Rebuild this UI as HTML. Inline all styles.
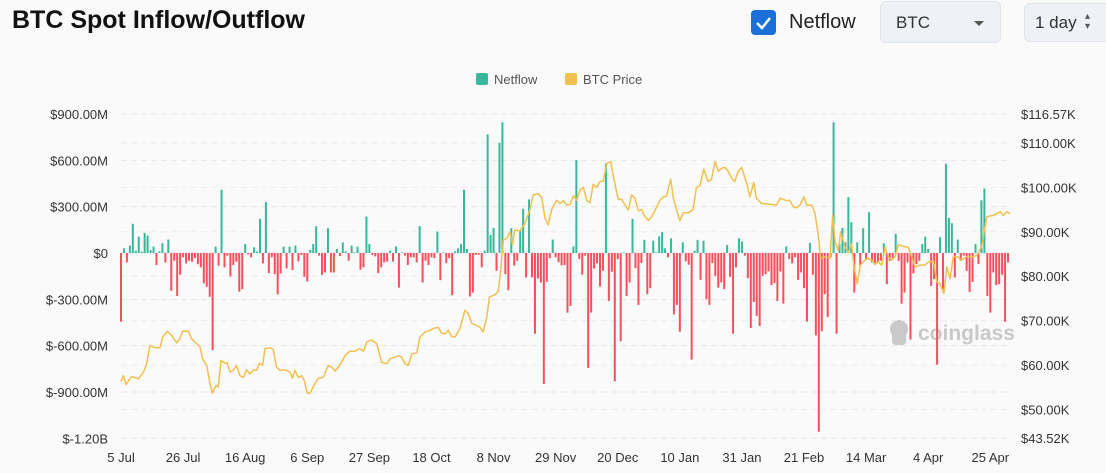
<!DOCTYPE html>
<html><head><meta charset="utf-8"><style>
html,body{margin:0;padding:0;background:#fafafa;width:1106px;height:473px;overflow:hidden;font-family:"Liberation Sans",sans-serif;}
#title{position:absolute;left:12px;top:6px;font-size:25px;font-weight:bold;color:#111;}
#cb{position:absolute;left:751px;top:10px;width:25px;height:25px;background:#1a6fd8;border-radius:4px}
#cbl{position:absolute;left:789px;top:11px;font-size:20px;color:#222}
#sel{position:absolute;left:880px;top:1px;width:121px;height:42px;background:#eef2f6;border:1px solid #dfe4ea;border-radius:6px;box-sizing:border-box}
#sel span{position:absolute;left:15px;top:11px;font-size:17px;color:#333}
#sel i{position:absolute;right:16px;top:19px;width:0;height:0;border-left:5px solid transparent;border-right:5px solid transparent;border-top:5px solid #555}
#day{position:absolute;left:1024px;top:3px;width:90px;height:39px;background:#eef2f6;border:1px solid #dfe4ea;border-radius:6px;box-sizing:border-box}
#day span{position:absolute;left:10px;top:9px;font-size:17px;color:#333}
#day b{position:absolute;left:60px;top:8px;font-size:10px;line-height:10px;color:#555;font-weight:normal}
svg{position:absolute;left:0;top:0}
</style></head><body>
<div id="title">BTC Spot Inflow/Outflow</div>
<div id="cb"><svg width="25" height="25"><path d="M6 13 L11 18 L19 8" stroke="#fff" stroke-width="2.5" fill="none"/></svg></div>
<div id="cbl">Netflow</div>
<div id="sel"><span>BTC</span><i></i></div>
<div id="day"><span>1 day</span><b>▴<br>▾</b></div>
<svg id="chart" width="1106" height="473">
<g>
<rect x="476" y="73" width="12" height="12" rx="2" fill="#37b89a"/>
<text x="494" y="84" font-size="13" fill="#555">Netflow</text>
<rect x="565" y="73" width="12" height="12" rx="2" fill="#f0c050"/>
<text x="583" y="84" font-size="13" fill="#555">BTC Price</text>
</g>
<g fill="#c9c9c9">
<circle cx="899" cy="329" r="9"/><rect x="892" y="331" width="14" height="14" rx="4"/>
<text x="918" y="340" font-size="21" font-weight="bold">coinglass</text>
</g>
<g id="grid"></g><g id="bars"></g><g id="line"></g><g id="axes"></g>
</svg>
<script>
const leftTicks=[900,600,300,0,-300,-600,-900,-1200];
const leftLabels=["$900.00M","$600.00M","$300.00M","$0","$-300.00M","$-600.00M","$-900.00M","$-1.20B"];
const rightTicks=[116.57,110,100,90,80,70,60,50,43.52];
const rightLabels=["$116.57K","$110.00K","$100.00K","$90.00K","$80.00K","$70.00K","$60.00K","$50.00K","$43.52K"];
const xTickLabels=["5 Jul","26 Jul","16 Aug","6 Sep","27 Sep","18 Oct","8 Nov","29 Nov","20 Dec","10 Jan","31 Jan","21 Feb","14 Mar","4 Apr","25 Apr"];
const xTickStep=21;
const netflow=[-445,30,-60,48,189,15,106,9,130,113,20,41,-78,11,63,-61,87,-245,-50,-278,-141,-28,-67,-50,-56,-33,-72,-93,-197,-219,-284,-629,41,-82,410,-93,-17,-152,-78,-56,-250,-234,58,-9,-28,37,9,221,-67,330,-130,-28,-137,-267,-132,41,-100,41,-110,48,-54,-13,-154,-184,20,58,174,-17,-141,-126,160,-126,-126,26,
-20,69,11,-50,48,4,41,-108,-93,236,58,-13,-22,-130,-93,-61,-56,15,-56,43,-224,4,-17,-78,-28,-28,-61,174,-191,-50,-78,-28,-33,139,-176,4,-65,-33,-273,11,30,58,410,26,-282,-256,-13,-11,-93,15,768,117,163,-115,714,846,-137,-241,160,-82,-50,145,286,-158,347,-158,-523,-165,-191,-848,-187,-33,87,-28,
-60,-80,-78,-386,-343,43,601,-39,-141,-17,-744,-386,-100,-67,-217,-115,579,-310,-121,-831,-39,-571,4,-278,-191,221,-98,-336,-65,85,-267,-228,80,4,108,135,30,-28,95,-397,-336,-510,69,-54,-76,-690,15,85,-174,80,-299,-336,-65,-148,-224,-191,-234,52,-154,-523,-93,95,74,-17,-163,-486,-317,-408,-473,-148,-137,-119,-208,-195,-310,
-120,-328,43,-39,-67,-28,-174,-126,-228,-445,65,-141,-534,-1157,-506,-267,-414,-28,846,-523,58,163,69,362,200,-256,69,-78,160,-39,265,-61,-76,-61,-50,63,-202,-50,-33,124,-50,-328,-256,-61,-560,-132,-72,-50,58,106,26,-213,-169,-723,102,-234,579,228,193,-158,87,-50,-17,-115,-252,-187,58,-72,341,417,-278,-386,-126,-208,-202,-141,-445,-61];
const priceDay=[0,0.8,1.7,3.6,5.9,7.6,8.7,9.8,11.5,13.2,14.1,15.7,17.1,18.8,19.9,20.8,22.8,23.9,25.6,26.7,27.6,29,30.1,30.9,32.1,32.9,33.8,35.2,35.9,36.9,38,39.1,40.2,41.4,42.5,43.6,44.8,45.9,46.8,47.9,48.7,50.4,51.5,52.6,53.8,55.5,57.2,58,58.8,60,61.1,62,63,63.9,65.6,66.7,68.4,70.1,71.3,72.4,74.1,
75.8,77.4,79.1,80.8,82,83.1,84.8,86.5,88.1,89.9,91,92.7,93.8,94.9,96,97.2,98.3,100,101.1,102.8,104.5,105.6,107.3,108.4,109.6,110.7,111.8,113,114.6,116.3,117.5,118.6,120.3,121.4,122.5,123.7,124.6,126.5,127.6,128.4,129.3,130.4,131.6,132.4,133.2,134.9,136.6,138.3,139.4,141.1,142.3,143.4,144.5,145.6,147.3,148.5,
149.6,150.7,151.9,153,154.1,155.2,156.4,157.5,158.6,159.7,160.9,162,163.1,164.3,165.6,166.8,168.2,169.3,170.5,171.6,172.7,173.8,175,176.1,177.2,178.4,179.5,181.2,182.3,183.4,184.5,185.9,186.8,187.9,189,190.2,191.9,193.5,194.6,195.8,197.1,198.6,199.7,200.9,202,203.1,204.2,205.4,206.5,207.6,208.7,209.9,211.6,212.7,214,214.9,216.6,219.5,221.7,222.9,
224,225.1,226.2,227.4,228.5,229.6,231,231.9,233.6,234.7,235.9,236.6,238.1,239.8,240.7,241.5,242.6,243.4,244.9,246,247.1,247.9,249,250,251.6,252.7,253.9,255,256.1,257.3,258.4,259.5,260.6,261.8,262.9,264.6,266.3,267.4,268.5,270.2,271.9,273.1,274.8,275.9,277,278.3,279.3,280.4,281.5,282.9,284.3,286,287.7,289.4,291.1,292.8,295,297.3,298.4,299.5,300.7];
const priceK=[56.3,57.6,55.6,57.4,56.9,58.4,60.3,64.4,63.9,63.9,66.3,67.6,66.7,65,65.9,67.6,67.6,65.9,64.8,64.2,61.4,59.9,55.8,53.6,55.4,55,61,60.4,60.5,58.4,58.8,59.9,57.6,57.2,58.9,58,58.9,58.8,60.4,59.9,63.7,63.9,63.5,59.5,58.8,58.9,58.4,57,58.8,57.2,57.6,56.5,53.7,53.6,55.8,57,57.2,59.9,59.5,58.6,60.1,
62.1,63.1,63.1,63.7,63.1,65.2,65.6,64.8,60.6,60.3,61.4,61.8,62.1,61.8,60.3,59.9,62.5,62.7,66.3,67.4,67.8,68.2,68.5,67.2,67,67.8,66.4,66.3,68.2,72.3,71.5,69.4,68.9,68.5,67.4,70.8,75.3,75.8,76.6,81.3,88.1,88.5,90,87.1,90.4,90.2,91.9,94.9,98.3,98.6,97.7,93,91.5,94.9,97.1,96.4,
97,96,96.2,98.1,97.1,99.4,100,97.1,96.5,100.7,100,101.3,101.4,105.4,105.8,101.6,97.3,97.3,96,94.9,98.3,97.6,94.7,95,93.4,92.6,93.4,95.6,97.1,97.9,98,101.9,97.6,94.9,92.5,94.3,94.3,95,100,100.3,104.1,101.3,101.8,105.8,103.6,104.3,104.5,103.6,102.1,101.3,103.6,104.5,100.9,97.9,101.1,97.6,96.4,96.2,96,97.6,
97.3,97,97.1,95.6,95.4,96,97.9,96,96,94.1,88.9,84,84.4,84,93.7,87.7,85.8,90,86.5,85.4,87.3,82.1,78.3,82.5,83.6,84,83.6,82.8,83.2,82.5,86.5,84.4,83.6,84.4,87.1,86.7,86.5,84.4,82.1,82.5,82.5,83.2,83.4,78.7,78.3,76.1,82.1,79.4,84.4,84.4,83.6,84.4,84.4,84.6,86.7,93.4,93.7,94.5,93.7,94.5,94.1];

const NS="http://www.w3.org/2000/svg";
const X0=121,X1=1011,DAYS=301;
function xs(d){return X0+d*(X1-X0)/DAYS;}
function yl(v){return 253-v*(139/900);}
function yr(p){return 143+(110-p)*((365-143)/50);}
function mk(tag,at,parent){const e=document.createElementNS(NS,tag);for(const k in at)e.setAttribute(k,at[k]);parent.appendChild(e);return e;}
const grid=document.getElementById('grid'),axes=document.getElementById('axes'),bars=document.getElementById('bars'),line=document.getElementById('line');
leftTicks.forEach((t,i)=>{
 const g=mk('line',{x1:X0,x2:1012,y1:yl(t),y2:yl(t),stroke:'#e6e6e6','stroke-dasharray':'6,4'},grid);
 
 
 const tx=mk('text',{x:108,y:yl(t)+5,'text-anchor':'end','font-size':13,fill:'#333'},axes);
 tx.textContent=leftLabels[i];
 
 
});
rightTicks.forEach((t,i)=>{
 const g=mk('line',{x1:X0,x2:1012,y1:yr(t),y2:yr(t),stroke:'#ececec','stroke-dasharray':'6,4'},grid);
 
 
 const tx=mk('text',{x:1021,y:yr(t)+5,'font-size':13,fill:'#333'},axes);
 tx.textContent=rightLabels[i];
 
 
});
xTickLabels.forEach((l,i)=>{
 const tx=mk('text',{x:xs(i*xTickStep),y:462,'text-anchor':'middle','font-size':13,fill:'#333'},axes);
 tx.textContent=l;
 
 
});
netflow.forEach((v,i)=>{
 const y0=yl(0),y1=yl(v);
 const r=mk('rect',{x:xs(i)-1,y:Math.min(y0,y1),width:2,height:Math.max(0.5,Math.abs(y1-y0)),fill:v>=0?'#37b89a':'#f4505e'},bars);
 
 
});
let d='';
priceDay.forEach((dd,i)=>{d+=(i?'L':'M')+xs(dd).toFixed(1)+' '+yr(priceK[i]).toFixed(1);});
const p=mk('path',{d:d,fill:'none',stroke:'#f0c050','stroke-width':1.5,'stroke-linejoin':'round'},line);


</script>
</body></html>
